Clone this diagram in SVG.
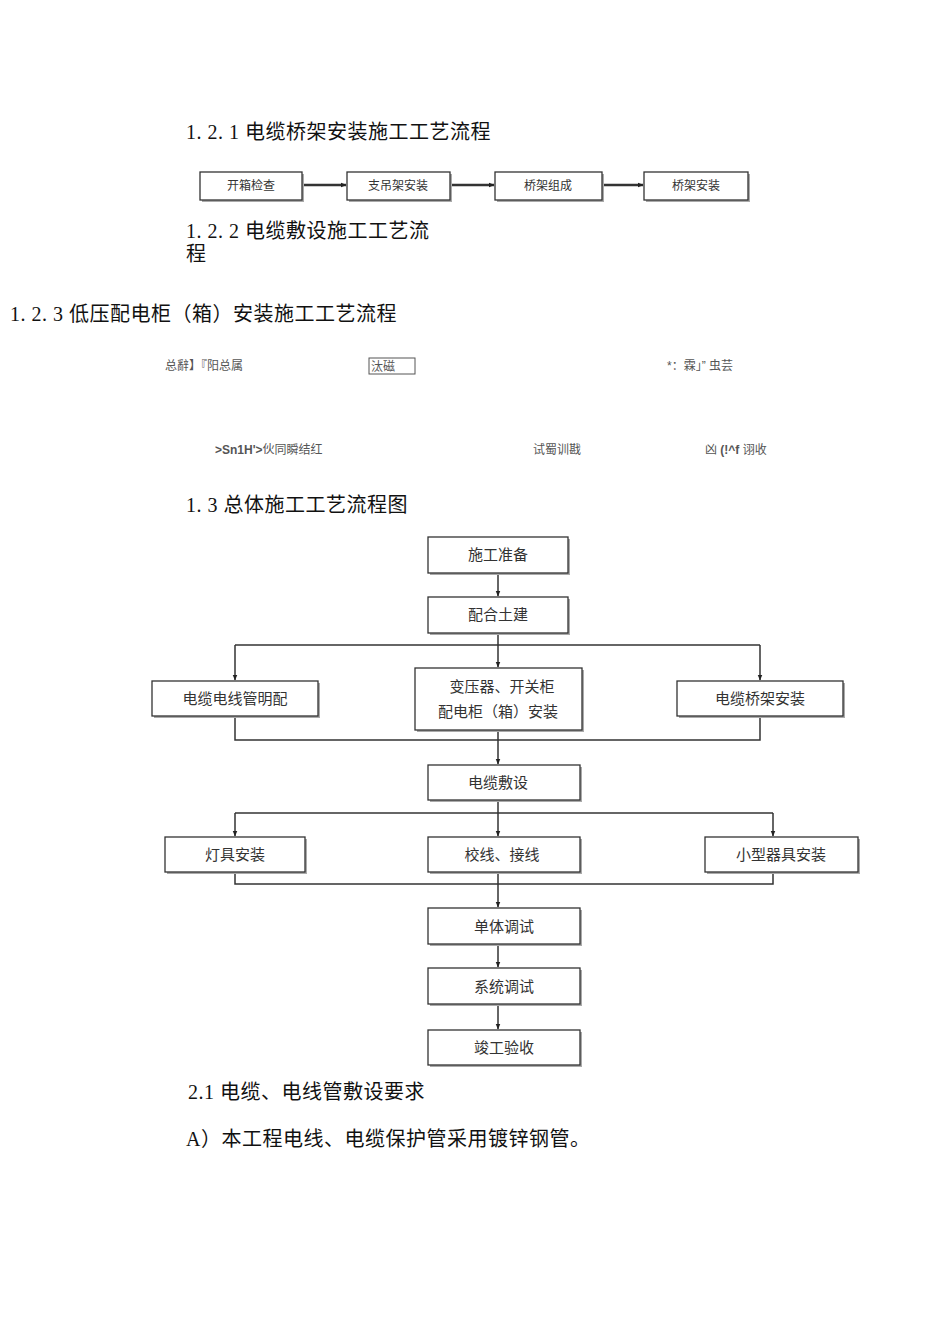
<svg xmlns="http://www.w3.org/2000/svg" width="950" height="1318" viewBox="0 0 950 1318">
<style>
.h{font-family:"Liberation Serif","Noto Sans CJK SC",serif;font-size:20px;fill:#111;letter-spacing:0.5px}
.b{fill:#fff;stroke:#333;stroke-width:1.3}
.s{fill:#aaa}
.t{font-family:"Liberation Serif","Noto Sans CJK SC",serif;font-size:15px;fill:#333;text-anchor:middle}
.ts{font-family:"Liberation Serif","Noto Sans CJK SC",serif;font-size:12px;fill:#333;text-anchor:middle}
.g{font-family:"Liberation Sans","Noto Sans CJK SC",sans-serif;font-size:12px;fill:#555}
.l{stroke:#333;stroke-width:1.5;fill:none}
.a{stroke:#333;stroke-width:1.5;fill:none;marker-end:url(#a)}
.a2{stroke:#333;stroke-width:2.5;fill:none;marker-end:url(#a)}
</style>
<defs><marker id="a" viewBox="0 0 10 10" refX="9" refY="5" markerWidth="6" markerHeight="6" markerUnits="userSpaceOnUse" orient="auto"><path d="M0,1L10,5L0,9z" fill="#222"/></marker></defs>
<rect width="950" height="1318" fill="#fff"/>
<text class="h" x="186" y="139">1. 2. 1 电缆桥架安装施工工艺流程</text>
<text class="h" x="186" y="238">1. 2. 2 电缆敷设施工工艺流</text>
<text class="h" x="186" y="261">程</text>
<text class="h" x="10" y="321">1. 2. 3 低压配电柜（箱）安装施工工艺流程</text>
<text class="g" x="165" y="370">总辭】『阳总属</text>
<rect x="369" y="358" width="46" height="16" fill="none" stroke="#555"/>
<text class="g" x="371" y="371">汰磁</text>
<text class="g" x="667" y="370">*：霖」” 虫芸</text>
<text class="g" x="215" y="454"><tspan font-weight="bold">&gt;Sn1H'&gt;</tspan>伙同瞬结红</text>
<text class="g" x="533" y="454">试蜀训戡</text>
<text class="g" x="705" y="454">凶 <tspan font-weight="bold">(!^f</tspan> 诩收</text>
<text class="h" x="186" y="512">1. 3 总体施工工艺流程图</text>
<text class="h" x="188" y="1099">2.1 电缆、电线管敷设要求</text>
<text class="h" x="186" y="1146">A）本工程电线、电缆保护管采用镀锌钢管。</text>
<g id="connectors">
<path class="a2" d="M302,185H346"/><path class="a2" d="M450,185H494"/><path class="a2" d="M602,185H643"/>
<path class="a" d="M498,573V596"/><path class="a" d="M498,633V667"/><path class="a" d="M498,740V764"/><path class="a" d="M498,800V836"/><path class="a" d="M498,884V907"/><path class="a" d="M498,944V967"/><path class="a" d="M498,1004V1029"/>
<path class="l" d="M235,645H760"/><path class="a" d="M235,645V680"/><path class="a" d="M760,645V680"/>
<path class="l" d="M235,716V740H760V716M498,730V740"/>
<path class="l" d="M235,813H773"/><path class="a" d="M235,813V836"/><path class="a" d="M773,813V836"/>
<path class="l" d="M235,872V884H773V872M498,872V884"/>
</g>
<g id="n1"><rect class="s" x="202" y="174" width="102" height="28"/><rect class="b" x="200" y="172" width="102" height="28"/><text class="ts" x="251" y="190">开箱检查</text></g>
<g id="n2"><rect class="s" x="349" y="174" width="103" height="28"/><rect class="b" x="347" y="172" width="103" height="28"/><text class="ts" x="398" y="190">支吊架安装</text></g>
<g id="n3"><rect class="s" x="497" y="174" width="107" height="28"/><rect class="b" x="495" y="172" width="107" height="28"/><text class="ts" x="548" y="190">桥架组成</text></g>
<g id="n4"><rect class="s" x="646" y="174" width="104" height="28"/><rect class="b" x="644" y="172" width="104" height="28"/><text class="ts" x="696" y="190">桥架安装</text></g>
<g id="m1"><rect class="s" x="430" y="539" width="140" height="36"/><rect class="b" x="428" y="537" width="140" height="36"/><text class="t" x="498" y="560">施工准备</text></g>
<g id="m2"><rect class="s" x="430" y="599" width="140" height="36"/><rect class="b" x="428" y="597" width="140" height="36"/><text class="t" x="498" y="620">配合土建</text></g>
<g id="m3"><rect class="s" x="154" y="683" width="166" height="35"/><rect class="b" x="152" y="681" width="166" height="35"/><text class="t" x="235" y="704">电缆电线管明配</text></g>
<g id="m4"><rect class="s" x="417" y="670" width="167" height="62"/><rect class="b" x="415" y="668" width="167" height="62"/><text class="t" x="502" y="692">变压器、开关柜</text><text class="t" x="498" y="717">配电柜（箱）安装</text></g>
<g id="m5"><rect class="s" x="679" y="683" width="166" height="35"/><rect class="b" x="677" y="681" width="166" height="35"/><text class="t" x="760" y="704">电缆桥架安装</text></g>
<g id="m6"><rect class="s" x="430" y="767" width="152" height="35"/><rect class="b" x="428" y="765" width="152" height="35"/><text class="t" x="498" y="788">电缆敷设</text></g>
<g id="m7"><rect class="s" x="167" y="839" width="140" height="35"/><rect class="b" x="165" y="837" width="140" height="35"/><text class="t" x="235" y="860">灯具安装</text></g>
<g id="m8"><rect class="s" x="430" y="839" width="152" height="35"/><rect class="b" x="428" y="837" width="152" height="35"/><text class="t" x="502" y="860">校线、接线</text></g>
<g id="m9"><rect class="s" x="707" y="839" width="153" height="35"/><rect class="b" x="705" y="837" width="153" height="35"/><text class="t" x="781" y="860">小型器具安装</text></g>
<g id="m10"><rect class="s" x="430" y="910" width="152" height="36"/><rect class="b" x="428" y="908" width="152" height="36"/><text class="t" x="504" y="932">单体调试</text></g>
<g id="m11"><rect class="s" x="430" y="970" width="152" height="36"/><rect class="b" x="428" y="968" width="152" height="36"/><text class="t" x="504" y="992">系统调试</text></g>
<g id="m12"><rect class="s" x="430" y="1032" width="152" height="35"/><rect class="b" x="428" y="1030" width="152" height="35"/><text class="t" x="504" y="1053">竣工验收</text></g>
</svg>
